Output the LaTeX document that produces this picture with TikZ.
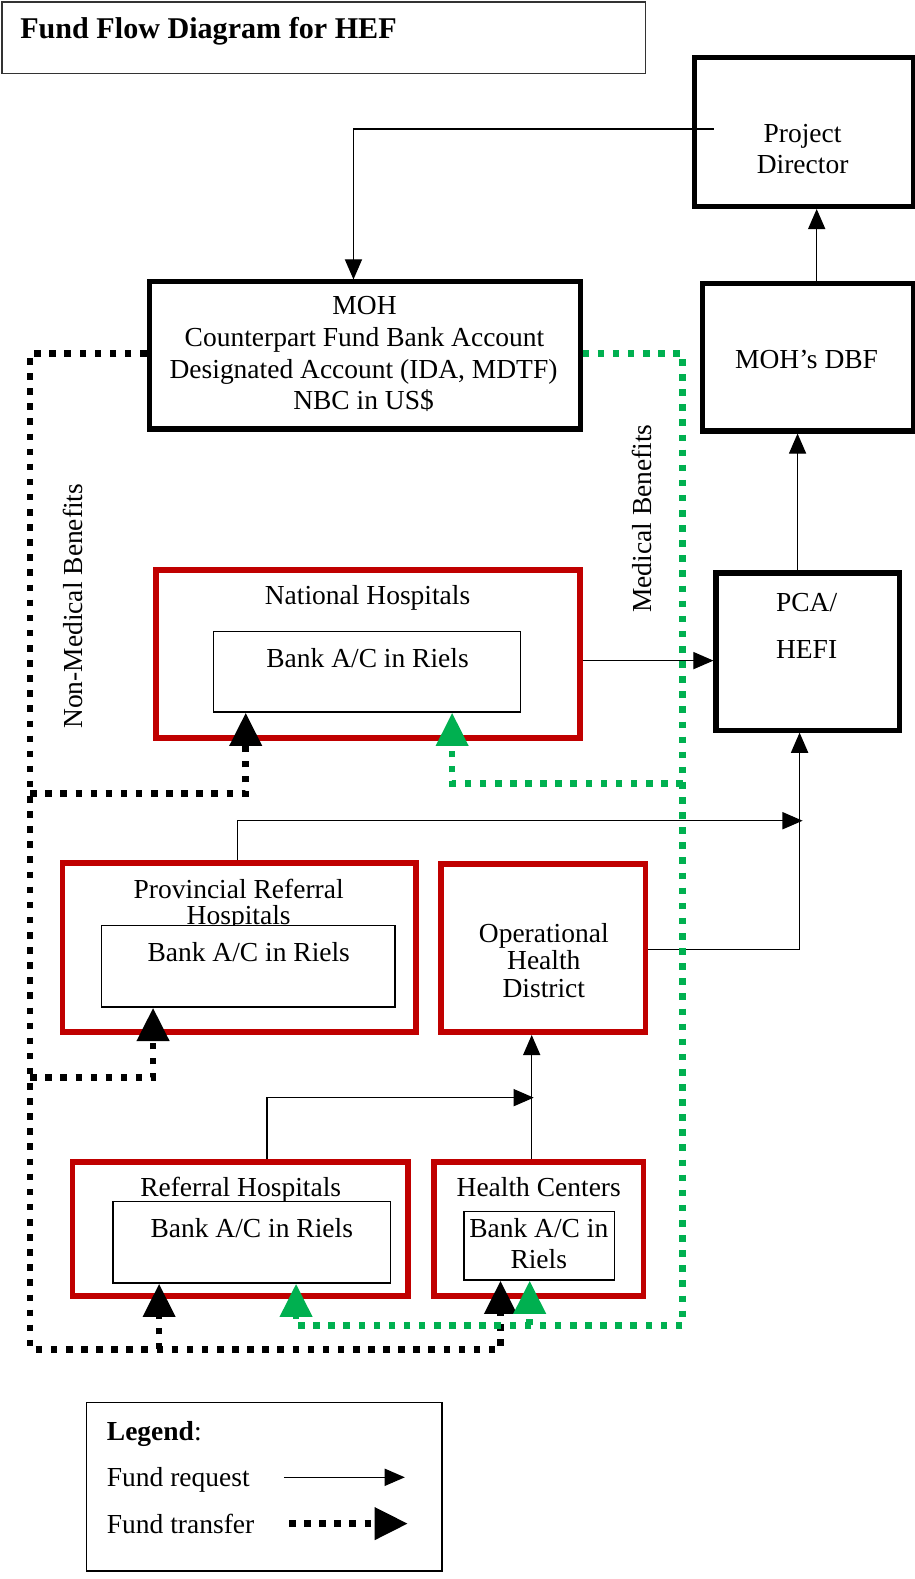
\documentclass[tikz,border=0pt]{standalone}
\usepackage{fontspec}
\setmainfont{Liberation Serif}
\usetikzlibrary{arrows.meta}
\definecolor{boxred}{RGB}{192,0,0}
\definecolor{medgreen}{RGB}{0,176,80}
\begin{document}
\begin{tikzpicture}[x=1pt,y=-1pt,
  txt/.style={font=\fontsize{27.3}{32}\selectfont, inner sep=0pt, anchor=base},
  bx/.style 2 args={rectangle, inner sep=0pt, minimum width=#1pt, minimum height=#2pt},
  thickbox/.style={draw=black, line width=5pt},
  redbox/.style={draw=boxred, line width=5.5pt},
  innerbox/.style={draw=black, line width=1.5pt, fill=white},
  req/.style={draw=black, line width=1.3pt, -{Triangle[length=20pt,width=17pt]}},
  nonmed/.style={draw=black, line width=6.5pt, dash pattern=on 6.5pt off 8.5pt, -{Triangle[length=33pt,width=31pt]}},
  med/.style={draw=medgreen, line width=6.5pt, dash pattern=on 6.5pt off 8.5pt, -{Triangle[length=33pt,width=31pt]}}
]
\useasboundingbox (0,0) rectangle (908,1568);

% title
\node[bx={639}{71}, draw=black!80, line width=1.2pt] (title) at (321.5,37.5) {};
\node[txt, anchor=base west, font=\fontsize{29.9}{34}\selectfont\bfseries] (titletext) at (20,38) {Fund Flow Diagram for HEF};

% main boxes
\node[thickbox, bx={217}{148}] (pd) at (798.5,131) {};
\node[txt] (pd1) at (797,142) {Project};
\node[txt] (pd2) at (797,172) {Director};

\node[thickbox, bx={428}{146}] (moh) at (362,353) {};
\node[txt] (moh1) at (362,312) {MOH};
\node[txt] (moh2) at (362,344) {Counterpart Fund Bank Account};
\node[txt] (moh3) at (361,376) {Designated Account (IDA, MDTF)};
\node[txt] (moh4) at (361,407) {NBC in US\$};

\node[thickbox, bx={209}{146}] (dbf) at (802.5,355) {};
\node[txt] (dbf1) at (801,366) {MOH’s DBF};

\node[thickbox, bx={182}{156}] (pca) at (802,647) {};
\node[txt] (pca1) at (801,607) {PCA/};
\node[txt] (pca2) at (801,654) {HEFI};

% National hospitals
\node[redbox, bx={421}{167}] (nh) at (365.5,649.5) {};
\node[txt] (nh1) at (365,600) {National Hospitals};
\node[innerbox, bx={305}{80}] (nhb) at (364.5,667) {};
\node[txt] (nhb1) at (365,663) {Bank A/C in Riels};

% Provincial referral hospitals
\node[redbox, bx={351}{168}] (prh) at (237.5,941) {};
\node[txt] (prh1) at (237,892) {Provincial Referral};
\node[txt] (prh2) at (237,918) {Hospitals};
\node[innerbox, bx={291}{81}] (prhb) at (246.5,959.5) {};
\node[txt] (prhb1) at (247,955) {Bank A/C in Riels};

% Operational health district
\node[redbox, bx={203}{167}] (ohd) at (539.5,941.5) {};
\node[txt] (ohd1) at (540,935.5) {Operational};
\node[txt] (ohd2) at (540,962.5) {Health};
\node[txt] (ohd3) at (540,990.5) {District};

% Referral hospitals
\node[redbox, bx={333}{133}] (rh) at (238.5,1220.5) {};
\node[txt] (rh1) at (239,1188) {Referral Hospitals};
\node[innerbox, bx={276}{81}] (rhb) at (250,1233.5) {};
\node[txt] (rhb1) at (250,1229) {Bank A/C in Riels};

% Health centers
\node[redbox, bx={208}{133}] (hc) at (535,1220.5) {};
\node[txt] (hc1) at (535,1188) {Health Centers};
\node[innerbox, bx={149}{68}] (hcb) at (535.5,1237) {};
\node[txt] (hcb1) at (535,1229) {Bank A/C in};
\node[txt] (hcb2) at (535,1260) {Riels};

% side labels
\node[txt, anchor=center, rotate=90] (nonmedlbl) at (72,602) {Non-Medical Benefits};
\node[txt, anchor=center, rotate=90] (medlbl) at (637,515) {Medical Benefits};

% fund requests
\coordinate (pdin) at (709,128);
\draw[req] (pdin) -| (moh.north -| 351,0);
\draw[req] (dbf.north -| 811,0) -- (pd.south -| 811,0);
\draw[req] (pca.north -| 792,0) -- (dbf.south -| 792,0);
\draw[req] (nh.east |- 0,656) -- (pca.west |- 0,656);
\coordinate (j1) at (797,815);
\draw[req] (prh.north -| 236,0) |- (j1);
\draw[req] (ohd.east |- 0,943) -| (pca.south -| 794,0);
\coordinate (j2) at (530,1090);
\draw[req] (rh.north -| 265,0) |- (j2);
\draw[req] (hc.north -| 528,0) -- (ohd.south -| 528,0);

% fund transfers: non-medical
\coordinate (nl) at (30,1340);
\draw[nonmed] (moh.west |- 0,351) -| (nl) -| (hcb.south -| 497,0);
\draw[nonmed] (30,788) -| (nhb.south -| 244,0);
\draw[nonmed] (30,1070) -| (prhb.south -| 152,0);
\draw[nonmed] (158,1340) -- (rhb.south -| 158,0);

% fund transfers: medical
\coordinate (ml) at (678,1316);
\draw[med] (moh.east |- 0,351) -| (ml) -| (rhb.south -| 294,0);
\draw[med] (678,778) -| (nhb.south -| 449,0);
\draw[med] (526,1316) -- (hcb.south -| 526,0);

% legend
\node[bx={353}{167}, draw=black, line width=1.3pt] (legend) at (262.5,1476.5) {};
\node[txt, anchor=base west] (leg1) at (106,1430) {\textbf{Legend}:};
\node[txt, anchor=base west] (leg2) at (106,1476) {Fund request};
\node[txt, anchor=base west] (leg3) at (106,1523) {Fund transfer};
\coordinate (lra) at (282,1467);
\coordinate (lrb) at (402,1467);
\draw[req] (lra) -- (lrb);
\coordinate (lta) at (287,1513);
\coordinate (ltb) at (405,1513);
\draw[nonmed] (lta) -- (ltb);
\end{tikzpicture}
\end{document}
